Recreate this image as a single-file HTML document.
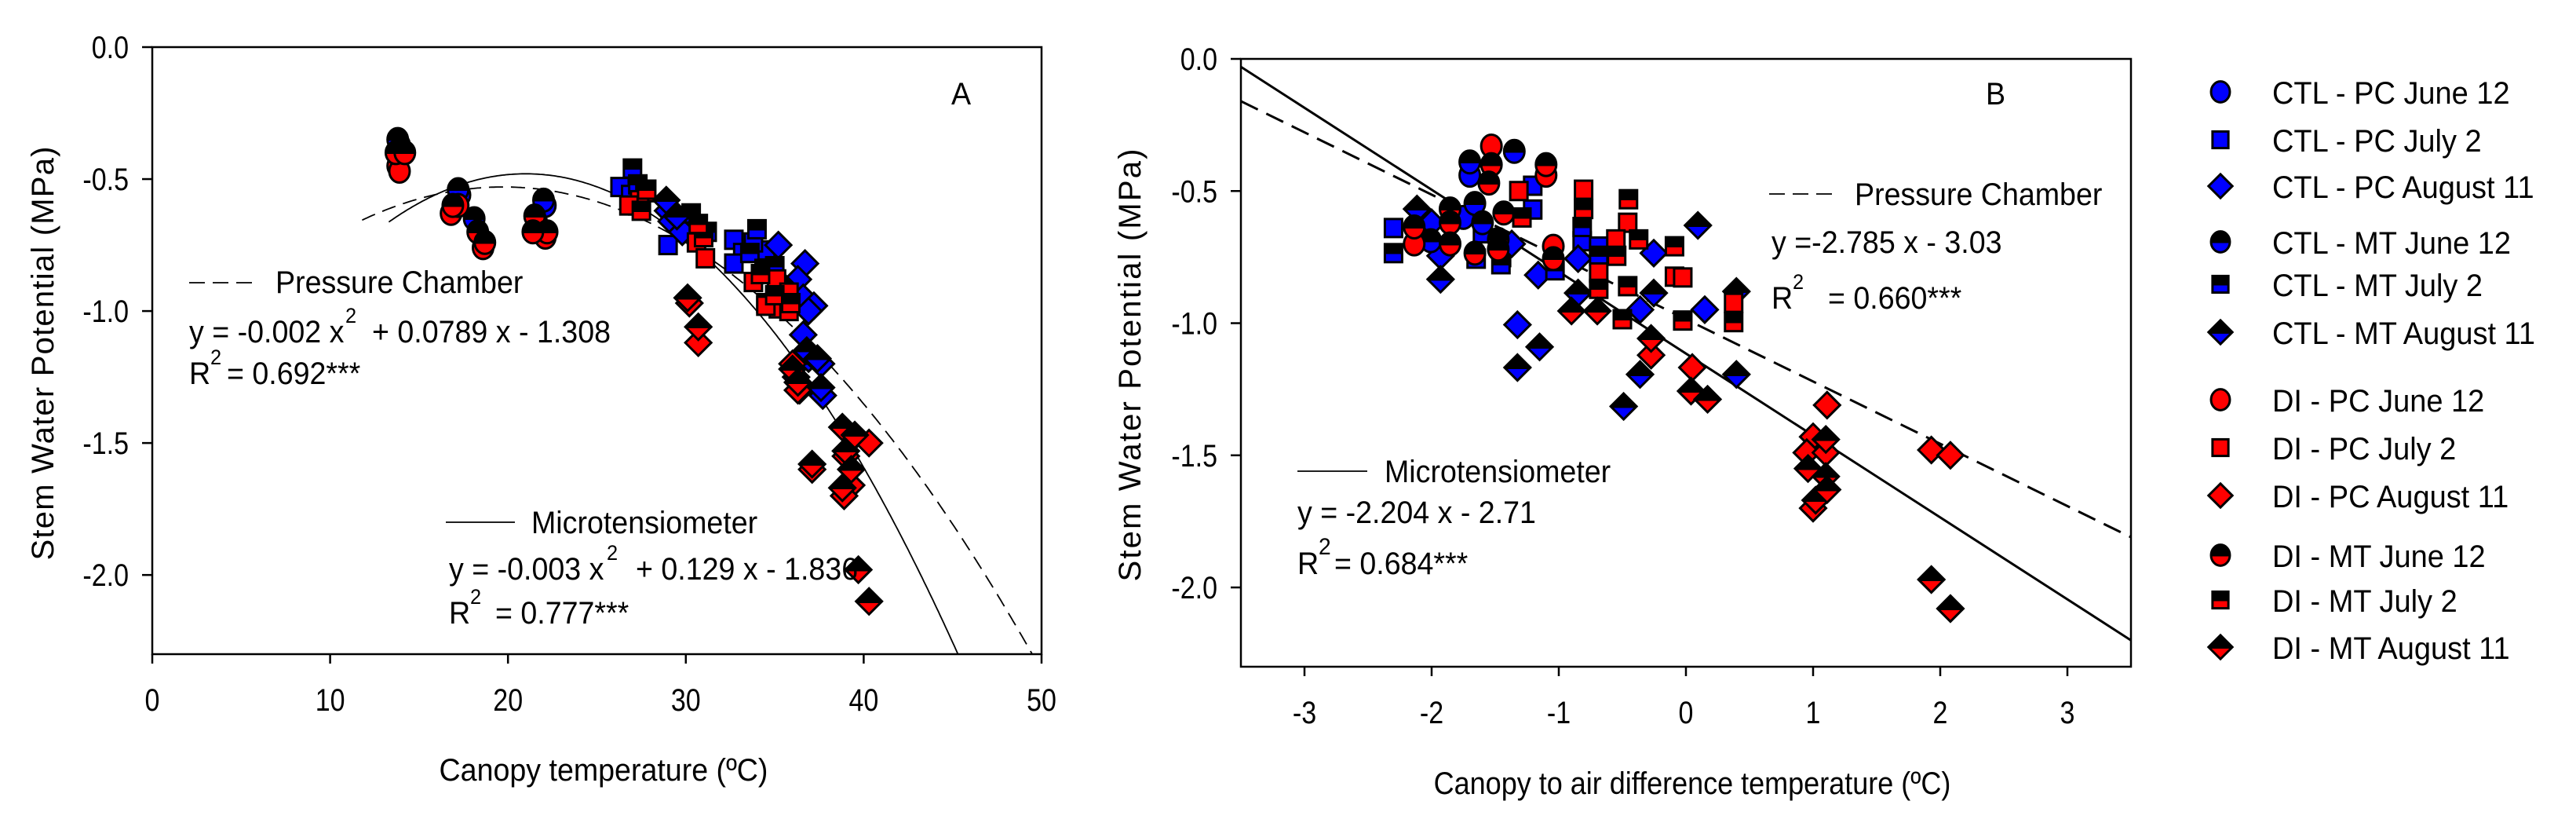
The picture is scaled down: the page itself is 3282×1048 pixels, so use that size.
<!DOCTYPE html>
<html><head><meta charset="utf-8"><title>Stem water potential charts</title>
<style>
html,body{margin:0;padding:0;background:#fff;}
svg{display:block;font-family:"Liberation Sans",Arial,sans-serif;}
</style></head>
<body>
<svg id="fig" width="3282" height="1048" viewBox="0 0 3282 1048" xmlns="http://www.w3.org/2000/svg">
<defs>
<linearGradient id="gBlue" x1="0" y1="0" x2="0" y2="1"><stop offset="0" stop-color="#000"/><stop offset="0.56" stop-color="#000"/><stop offset="0.56" stop-color="#0000ff"/><stop offset="1" stop-color="#0000ff"/></linearGradient>
<linearGradient id="gRed" x1="0" y1="0" x2="0" y2="1"><stop offset="0" stop-color="#000"/><stop offset="0.56" stop-color="#000"/><stop offset="0.56" stop-color="#ff0000"/><stop offset="1" stop-color="#ff0000"/></linearGradient>
<clipPath id="clipA"><rect x="194" y="60" width="1133" height="773"/></clipPath>
<clipPath id="clipB"><rect x="1581" y="75" width="1134" height="774"/></clipPath>
</defs>
<g id="panelA"></g>
<g id="panelB"></g>
<g id="legend"></g>
</svg>
<script>
// ---------- data ----------
const seriesNames = ["CTL - PC June 12","CTL - PC July 2","CTL - PC August 11","CTL - MT June 12","CTL - MT July 2","CTL - MT August 11","DI - PC June 12","DI - PC July 2","DI - PC August 11","DI - MT June 12","DI - MT July 2","DI - MT August 11"];
const seriesShapes = ["circle","square","diamond","circle","square","diamond","circle","square","diamond","circle","square","diamond"];
const seriesFills = ["#0000ff","#0000ff","#0000ff","url(#gBlue)","url(#gBlue)","url(#gBlue)","#ff0000","#ff0000","#ff0000","url(#gRed)","url(#gRed)","url(#gRed)"];

// Panel A: canopy temperature (x) vs stem water potential (y)
const aX0=[13.9,22.1,17.3], aY0=[-0.37,-0.60,-0.56];
const aX1=[26.3,26.9,27.3,29.0,32.7,33.2,32.7,34.5,33.8], aY1=[-0.53,-0.56,-0.60,-0.75,-0.73,-0.78,-0.82,-0.77,-0.74];
const aX2=[29.0,29.2,29.8,35.2,36.7,36.3,36.6,37.2,36.9,36.6,36.9,37.6,37.7,36.4], aY2=[-0.62,-0.66,-0.70,-0.75,-0.82,-0.88,-0.95,-0.98,-1.00,-1.09,-1.18,-1.20,-1.32,-1.30];
const aX3=[13.8,17.2,18.1,22.0], aY3=[-0.35,-0.54,-0.65,-0.58];
const aX4=[27.0,27.3,30.3,31.2,34.0,33.6,34.4,35.0,35.5,34.5], aY4=[-0.46,-0.52,-0.63,-0.70,-0.69,-0.78,-0.84,-0.83,-0.93,-0.97];
const aX5=[28.9,29.5,36.8,37.4,36.2,37.6,35.4], aY5=[-0.58,-0.64,-1.15,-1.18,-1.25,-1.29,-0.90];
const aX6=[13.8,13.9,16.8,17.2,18.6,21.6,22.1], aY6=[-0.45,-0.47,-0.63,-0.60,-0.76,-0.66,-0.72];
const aX7=[27.7,27.4,26.8,30.6,31.1,33.8,35.1,35.8,35.2,35.8,34.5], aY7=[-0.55,-0.58,-0.60,-0.74,-0.80,-0.89,-0.88,-0.93,-0.99,-1.00,-0.98];
const aX8=[30.2,30.7,36.0,36.3,39.4,40.3,39.3,38.9,39.0,37.1], aY8=[-0.97,-1.12,-1.20,-1.30,-1.48,-1.50,-1.66,-1.70,-1.55,-1.60];
const aX9=[13.7,14.2,16.9,18.3,18.7,21.5,22.2,21.4], aY9=[-0.40,-0.40,-0.60,-0.70,-0.74,-0.64,-0.70,-0.70];
const aX10=[27.8,27.5,31.0,30.7,34.2,35.0,35.9], aY10=[-0.54,-0.62,-0.72,-0.67,-0.86,-0.94,-0.97];
const aX11=[30.1,30.7,36.0,36.3,38.8,39.0,39.3,37.1,38.8,39.7,40.3,39.5], aY11=[-0.95,-1.06,-1.22,-1.27,-1.44,-1.53,-1.60,-1.58,-1.67,-1.98,-2.10,-1.47];

// Panel B: canopy-air difference temperature (x) vs stem water potential (y)
const bX0=[-1.70,-2.05,-1.75], bY0=[-0.44,-0.66,-0.60];
const bX1=[-2.30,-1.205,-1.205,-0.816,-0.686,-1.60,-1.45], bY1=[-0.64,-0.48,-0.57,-0.69,-0.71,-0.66,-0.75];
const bX2=[-1.93,-1.162,-0.848,-0.253,0.148,-1.325,-0.361,-1.37,-2.0], bY2=[-0.745,-0.818,-0.756,-0.735,-0.949,-1.006,-0.949,-0.70,-0.62];
const bX3=[-1.70,-1.35,-2.007,-1.66,-1.60], bY3=[-0.39,-0.35,-0.688,-0.547,-0.62];
const bX4=[-2.30,-1.455,-1.65,-0.816,-0.686,-1.03], bY4=[-0.735,-0.777,-0.756,-0.636,-0.745,-0.80];
const bX5=[-2.115,-1.93,0.094,0.397,-1.151,-1.325,-0.361,-0.49,-0.848,-0.253,0.397], bY5=[-0.568,-0.834,-0.63,-0.88,-1.09,-1.168,-1.194,-1.315,-0.886,-0.886,-1.194];
const bX6=[-1.53,-2.137,-1.043,-1.10], bY6=[-0.33,-0.70,-0.709,-0.44];
const bX7=[-1.314,-0.805,-0.458,-0.551,-0.09,-0.025,0.375,-0.686], bY7=[-0.50,-0.495,-0.62,-0.683,-0.824,-0.827,-0.923,-0.808];
const bX8=[-0.274,0.05,1.11,1.0,0.95,1.10,1.93,2.08,1.0], bY8=[-1.121,-1.168,-1.31,-1.43,-1.49,-1.49,-1.48,-1.50,-1.70];
const bX9=[-1.53,-1.55,-1.10,-1.855,-1.855,-1.855,-2.137,-1.66,-1.476,-1.476,-1.433,-1.043], bY9=[-0.40,-0.47,-0.40,-0.568,-0.62,-0.70,-0.636,-0.735,-0.683,-0.72,-0.583,-0.756];
const bX10=[-0.805,-0.452,-0.372,-0.09,-0.025,0.375,-0.50,-0.686,-0.458,-1.29,-0.545], bY10=[-0.568,-0.531,-0.683,-0.709,-0.99,-0.996,-0.985,-0.87,-0.86,-0.60,-0.745];
const bX11=[-0.90,-0.697,-0.274,0.04,0.17,1.10,0.96,1.10,1.02,1.11,1.93,2.08], bY11=[-0.954,-0.954,-1.058,-1.257,-1.288,-1.44,-1.55,-1.58,-1.67,-1.63,-1.97,-2.08];

// fits
const aPcCoef=[-0.002,0.0789,-1.308], aPcRange=[11.8,50];
const aMtCoef=[-0.003082,0.12944,-1.839], aMtRange=[13.3,46];
const bPcLine=[-0.2357,-0.985], bMtLine=[-0.31,-1.115];

// ticks
const aXTicks=[0,10,20,30,40,50], aXLabels=["0","10","20","30","40","50"];
const yTicks=[0,-0.5,-1.0,-1.5,-2.0], yLabels=["0.0","-0.5","-1.0","-1.5","-2.0"];
const bXTicks=[-3,-2,-1,0,1,2,3], bXLabels=["-3","-2","-1","0","1","2","3"];

// ---------- rendering ----------
const NS="http://www.w3.org/2000/svg";
const A={x0:194,x1:1327,y0:60,y1:833,xmin:0,xmax:50,ymin:-2.3,ymax:0};
const B={x0:1581,x1:2715,y0:75,y1:849,xmin:-3.5,xmax:3.5,ymin:-2.3,ymax:0};
function sx(P,v){return P.x0+(v-P.xmin)/(P.xmax-P.xmin)*(P.x1-P.x0);}
function sy(P,v){return P.y0+(P.ymax-v)/(P.ymax-P.ymin)*(P.y1-P.y0);}
function mk(tag,parent,attrs){const e=document.createElementNS(NS,tag);for(const k in attrs)e.setAttribute(k,attrs[k]);parent.appendChild(e);return e;}
function txt(parent,x,y,str,size,anchor,sc){
  const t=mk('text',parent,{transform:`translate(${x},${y}) scale(${sc||0.94},1)`,'font-size':size||40,'text-anchor':anchor||'start',fill:'#000'});
  t.textContent=str;return t;}
function marker(parent,shape,cx,cy,fill,s){
  s=s||1;let e;
  if(shape==='circle') e=mk('ellipse',parent,{cx:cx,cy:cy,rx:13*s,ry:14.5*s});
  else if(shape==='square') e=mk('rect',parent,{x:cx-11*s,y:cy-11.5*s,width:22*s,height:23*s});
  else e=mk('polygon',parent,{points:`${cx},${cy-16.5*s} ${cx+16.5*s},${cy} ${cx},${cy+16.5*s} ${cx-16.5*s},${cy}`});
  e.setAttribute('fill',fill);e.setAttribute('stroke','#000');e.setAttribute('stroke-width',3);
  return e;}

function axes(g,P,xt,xl,name){
  const fr=mk('rect',g,{x:P.x0,y:P.y0,width:P.x1-P.x0,height:P.y1-P.y0,fill:'none',stroke:'#000','stroke-width':2.5});
  
  
  xt.forEach((v,i)=>{const X=sx(P,v);
    const t=mk('line',g,{x1:X,x2:X,y1:P.y1,y2:P.y1+12,stroke:'#000','stroke-width':2.5});
    
    
    const l=txt(g,X,P.y1+72,xl[i],40,'middle',0.85);
    
    });
  yTicks.forEach((v,i)=>{const Y=sy(P,v);
    const t=mk('line',g,{x1:P.x0-13,x2:P.x0,y1:Y,y2:Y,stroke:'#000','stroke-width':2.5});
    
    
    const l=txt(g,P.x0-30,Y+14,yLabels[i],40,'end',0.85);
    
    });
}
function points(g,P,X,Y){
  for(let s=0;s<12;s++){
    const xs=X[s],ys=Y[s];
    for(let i=0;i<xs.length;i++){
      const m=marker(g,seriesShapes[s],sx(P,xs[i]),sy(P,ys[i]),seriesFills[s]);
      
      
    }}
}

// Panel A
const gA=document.getElementById('panelA');
axes(gA,A,aXTicks,aXLabels,'panel-a');
function curve(coef,r){let d='';for(let x=r[0];x<=r[1]+1e-9;x+=0.1){const y=coef[0]*x*x+coef[1]*x+coef[2];d+=(d?'L':'M')+sx(A,x).toFixed(1)+','+sy(A,y).toFixed(1);}return d;}
const cPc=mk('path',gA,{d:curve(aPcCoef,aPcRange),fill:'none',stroke:'#000','stroke-width':1.8,'stroke-dasharray':'18,10','clip-path':'url(#clipA)'});


const cMt=mk('path',gA,{d:curve(aMtCoef,aMtRange),fill:'none',stroke:'#000','stroke-width':1.8,'clip-path':'url(#clipA)'});


points(gA,A,[aX0,aX1,aX2,aX3,aX4,aX5,aX6,aX7,aX8,aX9,aX10,aX11],[aY0,aY1,aY2,aY3,aY4,aY5,aY6,aY7,aY8,aY9,aY10,aY11]);
let t;
t=txt(gA,1212,133,'A',40,'start',0.94);
t=mk('line',gA,{x1:241,x2:323,y1:360,y2:360,stroke:'#000','stroke-width':1.8,'stroke-dasharray':'20,10'});
t=txt(gA,351,373,'Pressure Chamber');
t=txt(gA,241,436,'y = -0.002 x');
t=txt(gA,440,411,'2',27);
t=txt(gA,474,436,'+ 0.0789 x - 1.308');
t=txt(gA,241,489,'R');
t=txt(gA,268,464,'2',27);
t=txt(gA,289,489,'= 0.692***');
t=mk('line',gA,{x1:568,x2:656,y1:665,y2:665,stroke:'#000','stroke-width':1.8});
t=txt(gA,677,679,'Microtensiometer');
t=txt(gA,572,738,'y = -0.003 x');
t=txt(gA,773,713,'2',27);
t=txt(gA,810,738,'+ 0.129 x - 1.836');
t=txt(gA,572,794,'R');
t=txt(gA,599,769,'2',27);
t=txt(gA,631,794,'= 0.777***');
t=txt(gA,769,994,'Canopy temperature (ºC)',40,'middle',0.94);
t=mk('text',gA,{transform:'translate(68,450) rotate(-90)','font-size':40,'text-anchor':'middle',textLength:527,fill:'#000'});t.textContent='Stem Water Potential (MPa)';

// Panel B
const gB=document.getElementById('panelB');
axes(gB,B,bXTicks,bXLabels,'panel-b');
function lineB(c){return `M${sx(B,-3.5)},${sy(B,c[0]*-3.5+c[1])}L${sx(B,3.5)},${sy(B,c[0]*3.5+c[1])}`;}
t=mk('path',gB,{d:lineB(bPcLine),fill:'none',stroke:'#000','stroke-width':3,'stroke-dasharray':'24,12','clip-path':'url(#clipB)'});
t=mk('path',gB,{d:lineB(bMtLine),fill:'none',stroke:'#000','stroke-width':3,'clip-path':'url(#clipB)'});
points(gB,B,[bX0,bX1,bX2,bX3,bX4,bX5,bX6,bX7,bX8,bX9,bX10,bX11],[bY0,bY1,bY2,bY3,bY4,bY5,bY6,bY7,bY8,bY9,bY10,bY11]);
t=txt(gB,2530,133,'B');
t=mk('line',gB,{x1:2254,x2:2335,y1:247,y2:247,stroke:'#000','stroke-width':1.8,'stroke-dasharray':'20,10'});
t=txt(gB,2363,261,'Pressure Chamber');
t=txt(gB,2257,322,'y =-2.785 x - 3.03');
t=txt(gB,2257,393,'R');
t=txt(gB,2284,368,'2',27);
t=txt(gB,2329,393,'= 0.660***');
t=mk('line',gB,{x1:1653,x2:1742,y1:600,y2:600,stroke:'#000','stroke-width':1.8});
t=txt(gB,1764,614,'Microtensiometer');
t=txt(gB,1653,666,'y = -2.204 x - 2.71');
t=txt(gB,1653,731,'R');
t=txt(gB,1680,706,'2',30);
t=txt(gB,1700,731,'= 0.684***');
t=txt(gB,2156,1011,'Canopy to air difference temperature (ºC)',40,'middle',0.9);
t=mk('text',gB,{transform:'translate(1453,465) rotate(-90)','font-size':40,'text-anchor':'middle',textLength:551,fill:'#000'});t.textContent='Stem Water Potential (MPa)';

// Legend
const gL=document.getElementById('legend');
const legendRowY=[117,178,237,308,362,423,509,570,631,707,764,824];
seriesNames.forEach((n,i)=>{
  const y=legendRowY[i];
  const m=marker(gL,seriesShapes[i],2829,y,seriesFills[i],0.92);
  
  
  const l=txt(gL,2895,y+15,n,40,'start',0.95);
  
  
});
</script>
</body></html>
